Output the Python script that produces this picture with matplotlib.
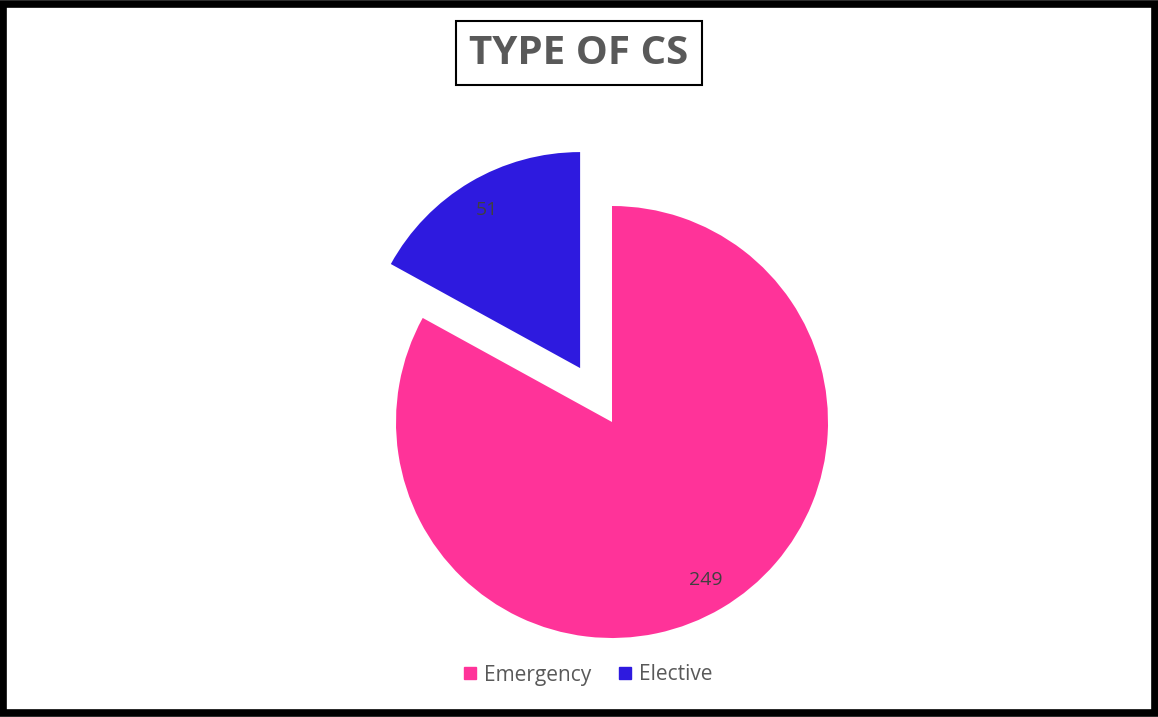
import matplotlib
matplotlib.use("Agg")
import matplotlib.pyplot as plt
from matplotlib.patches import Rectangle
from matplotlib.lines import Line2D

categories = ["Emergency", "Elective"]
values = [249, 51]
colors = ["#FF3399", "#2E1ADF"]
title = "TYPE OF CS"

W, H = 1158, 717
fig = plt.figure(figsize=(W / 100, H / 100), dpi=100)
fig.patch.set_facecolor("white")

cx, cy, R = 612, 422, 216
ax = fig.add_axes([0, 0, 1, 1])
ax.set_xlim(-cx / R, (W - cx) / R)
ax.set_ylim(-(H - cy) / R, cy / R)
ax.set_aspect("auto")
ax.axis("off")

wedges, texts, autotexts = ax.pie(
    values, colors=colors, startangle=90, counterclock=False,
    explode=[0, 0.29], radius=1.0,
    autopct=lambda p: f"{round(p * sum(values) / 100):d}", pctdistance=0.85,
    textprops=dict(color="#404040", fontsize=14, family="Open Sans"),
    wedgeprops=dict(linewidth=0),
)
ax.set_xlim(-cx / R, (W - cx) / R)
ax.set_ylim(-(H - cy) / R, cy / R)

# title with box
fig.text(579 / W, 1 - 53 / H, title, ha="center", va="center",
         fontsize=29, fontweight="bold", color="#595959", family="Open Sans",
         bbox=dict(boxstyle="square,pad=0.32", facecolor="white", edgecolor="black", linewidth=1.5))

# legend
handles = [Line2D([0], [0], marker="s", linestyle="none", markersize=8,
                  markerfacecolor=c, markeredgecolor=c) for c in colors]
fig.legend(handles, categories, loc="center", bbox_to_anchor=(587 / W, 1 - 675 / H),
           ncol=2, frameon=False, handletextpad=0.3, columnspacing=1.2,
           prop=dict(family="Open Sans", size=15), labelcolor="#595959", handlelength=0.8)

# outer border
fig.patches.append(Rectangle((0.003, 0.005), 0.994, 0.99, transform=fig.transFigure,
                             fill=False, edgecolor="black", linewidth=5.5))

fig.savefig("out.png", dpi=100)
